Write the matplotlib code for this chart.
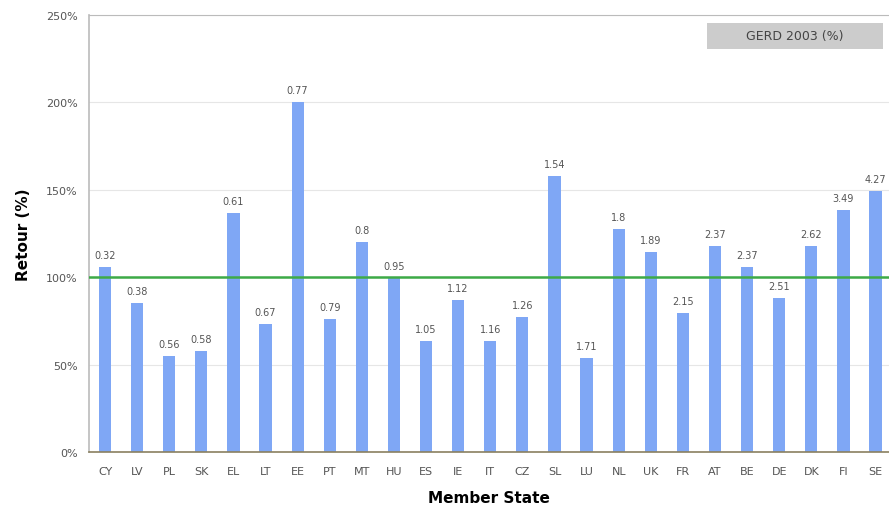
import matplotlib
matplotlib.use("Agg")
import matplotlib.pyplot as plt
from matplotlib.ticker import FuncFormatter
from matplotlib.patches import Rectangle

states = ["CY", "LV", "PL", "SK", "EL", "LT", "EE", "PT", "MT", "HU", "ES", "IE", "IT",
          "CZ", "SL", "LU", "NL", "UK", "FR", "AT", "BE", "DE", "DK", "FI", "SE"]
retour = [106, 85, 55, 58, 137, 73, 200, 76, 120, 99.5, 63.5, 87, 63.5,
          77, 158, 54, 127.5, 114.5, 79.5, 118, 106, 88, 118, 138.5, 149.5]
gerd = ["0.32", "0.38", "0.56", "0.58", "0.61", "0.67", "0.77", "0.79", "0.8", "0.95",
        "1.05", "1.12", "1.16", "1.26", "1.54", "1.71", "1.8", "1.89", "2.15", "2.37",
        "2.37", "2.51", "2.62", "3.49", "4.27"]
yticks = [0, 50, 100, 150, 200, 250]
reference = 100

fig = plt.figure(figsize=(8.89, 5.10), dpi=100)
ax = fig.add_axes([0.1001, 0.1118, 0.8999, 0.8568])

x = list(range(len(states)))
ax.bar(x, retour, width=0.38, color="#7FA7F5", zorder=2)
ax.axhline(reference, color="#3DAA47", lw=1.8, zorder=3)

for xi, v, g in zip(x, retour, gerd):
    ax.text(xi, v + 4, g, ha="center", va="bottom", fontsize=7, color="#555555", zorder=4)

ax.set_xlim(-0.5, 24.42)
ax.set_ylim(0, 250)
ax.set_yticks(yticks)
ax.yaxis.set_major_formatter(FuncFormatter(lambda v, p: f"{int(v)}%"))
ax.set_xticks(x)
ax.set_xticklabels(states)
ax.tick_params(axis="x", length=0, labelsize=8, colors="#555555", pad=10)
ax.tick_params(axis="y", length=0, labelsize=8, colors="#555555", pad=8)
ax.grid(axis="y", color="#E6E6E6", lw=0.8, zorder=0)

ax.spines["right"].set_visible(False)
ax.spines["top"].set_color("#BBBBBB")
ax.spines["left"].set_color("#BBBBBB")
ax.spines["left"].set_linewidth(1.2)
ax.spines["bottom"].set_color("#8A8060")
ax.spines["bottom"].set_linewidth(1.2)

ax.set_ylabel("Retour (%)", fontsize=11, fontweight="bold", labelpad=11)
ax.set_xlabel("Member State", fontsize=11, fontweight="bold", labelpad=10)

ax.add_patch(Rectangle((0.7725, 0.922), 0.22, 0.0595, transform=ax.transAxes,
                       facecolor="#CCCCCC", edgecolor="none", zorder=5))
ax.text(0.8825, 0.952, "GERD 2003 (%)", transform=ax.transAxes, ha="center", va="center",
        fontsize=9, color="#444444", zorder=6)

fig.savefig("out.png", dpi=100)
